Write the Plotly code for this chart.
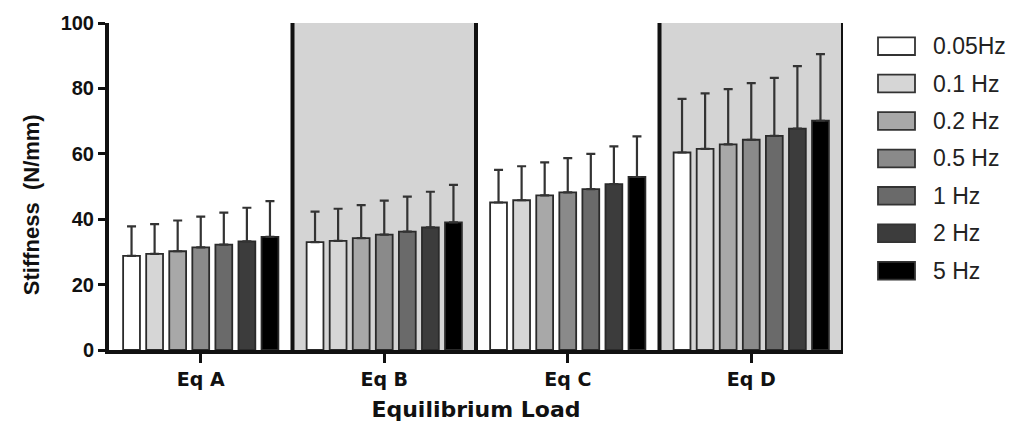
import plotly.graph_objects as go

categories = ["Eq A", "Eq B", "Eq C", "Eq D"]
series_names = ["0.05Hz", "0.1 Hz", "0.2 Hz", "0.5 Hz", "1 Hz", "2 Hz", "5 Hz"]
means = {
    "0.05Hz": [28.8, 33.0, 45.1, 60.4],
    "0.1 Hz": [29.4, 33.4, 45.8, 61.5],
    "0.2 Hz": [30.2, 34.2, 47.3, 62.9],
    "0.5 Hz": [31.4, 35.3, 48.2, 64.3],
    "1 Hz":   [32.2, 36.2, 49.2, 65.5],
    "2 Hz":   [33.2, 37.5, 50.7, 67.7],
    "5 Hz":   [34.6, 39.0, 52.9, 70.1],
}
errors = {
    "0.05Hz": [9.0, 9.3, 10.0, 16.4],
    "0.1 Hz": [9.1, 9.8, 10.4, 17.0],
    "0.2 Hz": [9.4, 10.1, 10.1, 16.9],
    "0.5 Hz": [9.4, 10.4, 10.5, 17.3],
    "1 Hz":   [9.8, 10.7, 10.8, 17.7],
    "2 Hz":   [10.3, 10.9, 11.6, 19.1],
    "5 Hz":   [10.9, 11.5, 12.4, 20.4],
}
colors = ["#ffffff", "#d6d6d6", "#a8a8a8", "#8a8a8a", "#6a6a6a", "#3c3c3c", "#000000"]

FONT = "Liberation Sans, Arial, sans-serif"
WIDE = "DejaVu Sans, Verdana, sans-serif"

W, H = 1026, 434
ML, MR, MT, MB = 109, 183, 18, 84
PW, PH = W - ML - MR, H - MT - MB

fig = go.Figure()
for name, col in zip(series_names, colors):
    fig.add_trace(go.Bar(
        name=name, x=categories, y=means[name], showlegend=False,
        marker=dict(color=col, line=dict(color="#2a2a2a", width=1.8)),
        error_y=dict(type="data", array=errors[name], arrayminus=[0]*4,
                     symmetric=False, color="#333333", thickness=2.2, width=4.5),
    ))

shapes = []
for i in (1, 3):
    shapes.append(dict(type="rect", xref="x", yref="paper", x0=i-0.5, x1=i+0.5,
                       y0=0, y1=1, fillcolor="#d4d4d4", line=dict(width=0), layer="below"))
for b in (0.5, 1.5, 2.5, 3.5):
    shapes.append(dict(type="line", xref="x", yref="paper", x0=b, x1=b, y0=0, y1=1,
                       line=dict(color="#111111", width=4), layer="above"))

annotations = []
def px_x(p):
    return (p - ML) / PW
def px_y(p):
    return (H - MB - p) / PH
for k, (name, col) in enumerate(zip(series_names, colors)):
    cy = 41.5 + 38 * k
    shapes.append(dict(type="rect", xref="paper", yref="paper",
                       x0=px_x(878), x1=px_x(915), y0=px_y(cy + 9), y1=px_y(cy - 9),
                       fillcolor=col, line=dict(color="#333333", width=1.8)))
    annotations.append(dict(xref="paper", yref="paper", x=px_x(931), y=px_y(cy),
                            xanchor="left", yanchor="middle", showarrow=False,
                            text=name, font=dict(size=23, family=FONT, color="#222222")))

# y-axis title placed like the original (slightly below the plot centre)
annotations.append(dict(xref="paper", yref="paper", x=px_x(31), y=px_y(203),
                        xanchor="center", yanchor="middle", showarrow=False, textangle=-90,
                        text="<b>Stiffness\u00a0\u00a0(N/mm)</b>",
                        font=dict(size=22, family=FONT, color="#111111")))

fig.update_layout(
    width=W, height=H,
    margin=dict(l=ML, r=MR, t=MT, b=MB),
    paper_bgcolor="white", plot_bgcolor="white",
    barmode="group", bargap=0.12, bargroupgap=0.27,
    shapes=shapes, annotations=annotations,
    font=dict(family=FONT, color="#111111"),
    showlegend=False,
    xaxis=dict(range=[-0.5, 3.5], showline=True, linecolor="#111111", linewidth=4,
               ticks="outside", ticklen=9, tickwidth=2.5, tickcolor="#111111",
               tickfont=dict(size=19, family=WIDE, weight="bold"),
               title=dict(text="<b>Equilibrium Load</b>",
                          font=dict(size=22, family=WIDE), standoff=14),
               showgrid=False, zeroline=False),
    yaxis=dict(range=[0, 100], tickvals=[0, 20, 40, 60, 80, 100], showline=True,
               linecolor="#111111", linewidth=4, ticks="outside", ticklen=7,
               tickwidth=2.5, tickcolor="#111111",
               tickfont=dict(size=20, family=FONT, weight="bold"),
               showgrid=False, zeroline=False),
)

fig.write_html("out.html")
